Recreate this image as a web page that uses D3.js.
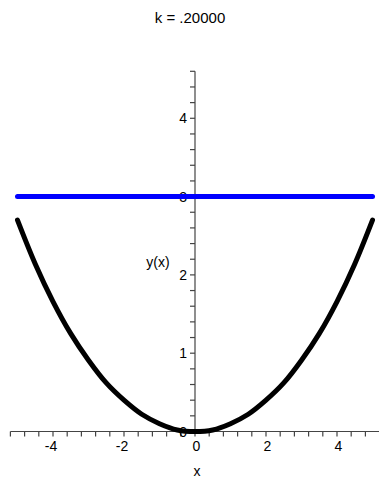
<!DOCTYPE html>
<html>
<head>
<meta charset="utf-8">
<script src="https://cdn.jsdelivr.net/npm/d3@7"></script>
<style>
  html, body { margin: 0; padding: 0; background: #fff; }
  svg { display: block; }
  text { font-family: "Liberation Sans", Arial, Helvetica, sans-serif; fill: #000; }
</style>
</head>
<body>
<svg id="chart" width="379" height="483"></svg>
<script>
// Curve y(x) sampled along x, and the constant level line
const xValues = [-5, -4.5, -4, -3.5, -3, -2.5, -2, -1.5, -1, -0.5, 0, 0.5, 1, 1.5, 2, 2.5, 3, 3.5, 4, 4.5, 5];
const yValues = [2.70, 2.14, 1.66, 1.25, 0.91, 0.62, 0.40, 0.22, 0.10, 0.02, 0, 0.02, 0.10, 0.22, 0.40, 0.62, 0.91, 1.25, 1.66, 2.14, 2.70];
const levelX = [-5, 5];
const levelY = [3, 3];

const xDomain = [-5.2, 5.2];
const yDomain = [0, 4.6];
const xMajorTicks = [-4, -2, 0, 2, 4];
const yMajorTicks = [0, 1, 2, 3, 4];
const title = "k = .20000";

const svg = d3.select("#chart");

const x = d3.scaleLinear().domain(xDomain).range([10.4, 379.6]);
const y = d3.scaleLinear().domain(yDomain).range([431.5, 71.3]);

// minor ticks every 0.4 along x, every 0.2 along y
const xMinor = d3.range(-13, 14).map(i => i * 0.4);
const yMinor = d3.range(0, 24).map(i => i * 0.2);

const axisColor = "#444";

// x axis through y = 0
const gx = svg.append("g").attr("transform", `translate(0,${y(0)})`);
gx.append("line").attr("x1", x(xDomain[0])).attr("x2", x(xDomain[1]))
  .attr("stroke", axisColor).attr("stroke-width", 1.2);
gx.selectAll("line.t").data(xMinor).join("line").attr("class", "t")
  .attr("x1", d => x(d)).attr("x2", d => x(d)).attr("y1", 0).attr("y2", 5)
  .attr("stroke", axisColor).attr("stroke-width", 1.2);
gx.selectAll("text").data(xMajorTicks).join("text")
  .attr("x", d => x(d) + (d < 0 ? -2 : 1.5)).attr("y", 19)
  .attr("text-anchor", "middle").attr("font-size", 14)
  .text(d => d < 0 ? "-" + Math.abs(d) : d);

// y axis through x = 0
const gy = svg.append("g").attr("transform", `translate(${x(0)},0)`);
gy.append("line").attr("y1", y(0)).attr("y2", y(yDomain[1]))
  .attr("stroke", axisColor).attr("stroke-width", 1.2);
gy.selectAll("line.t").data(yMinor).join("line").attr("class", "t")
  .attr("y1", d => y(d)).attr("y2", d => y(d)).attr("x1", -5).attr("x2", 0)
  .attr("stroke", axisColor).attr("stroke-width", 1.2);
gy.selectAll("text").data(yMajorTicks).join("text")
  .attr("x", -8).attr("y", d => y(d) + 5)
  .attr("text-anchor", "end").attr("font-size", 14)
  .text(d => d);

// level line
const levelData = levelX.map((v, i) => [v, levelY[i]]);
const line = d3.line().x(d => x(d[0])).y(d => y(d[1]));
svg.append("path").datum(levelData).attr("d", line)
  .attr("fill", "none").attr("stroke", "#0000ff").attr("stroke-width", 5)
  .attr("stroke-linecap", "round");

// curve y(x)
const curveData = xValues.map((v, i) => [v, yValues[i]]);
svg.append("path").datum(curveData).attr("d", line.curve(d3.curveCatmullRom))
  .attr("fill", "none").attr("stroke", "#000").attr("stroke-width", 5)
  .attr("stroke-linecap", "round").attr("stroke-linejoin", "round");

// labels
svg.append("text").attr("x", 190).attr("y", 23).attr("text-anchor", "middle")
  .attr("font-size", 15).text(title);
svg.append("text").attr("x", 197).attr("y", 476).attr("text-anchor", "middle")
  .attr("font-size", 14).text("x");
svg.append("text").attr("x", 158).attr("y", 267).attr("text-anchor", "middle")
  .attr("font-size", 14).text("y(x)");
</script>
</body>
</html>
